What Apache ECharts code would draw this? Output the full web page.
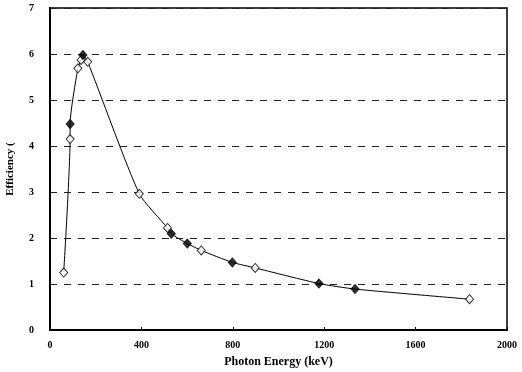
<!DOCTYPE html>
<html><head><meta charset="utf-8">
<script src="https://cdn.jsdelivr.net/npm/echarts@6/dist/echarts.min.js"></script>
<style>html,body{margin:0;padding:0;background:#fff}#c{width:522px;height:372px}</style>
</head><body><div id="c"></div>
<script>
// Open diamonds
const openEnergy = [60, 88, 122, 136, 165, 391, 514, 662, 898, 1836];
const openEff    = [1.25, 4.15, 5.69, 5.87, 5.83, 2.96, 2.22, 1.73, 1.35, 0.67];
// Filled diamonds
const filledEnergy = [88, 144, 531, 601, 798, 1177, 1335];
const filledEff    = [4.48, 5.98, 2.09, 1.88, 1.47, 1.01, 0.89];
const xTicks = [0, 400, 800, 1200, 1600, 2000];
const yTicks = [0, 1, 2, 3, 4, 5, 6, 7];

const openData = openEnergy.map((e, i) => [e, openEff[i]]);
const filledData = filledEnergy.map((e, i) => [e, filledEff[i]]);
const lineData = openData.concat(filledData).sort((a, b) => a[0] - b[0] || a[1] - b[1]);

const font = '"Liberation Serif", "Times New Roman", serif';
const chart = echarts.init(document.getElementById('c'));
chart.setOption({
  animation: false,
  backgroundColor: '#fff',
  grid: { left: 50, right: 15, top: 8, bottom: 42, containLabel: false, outerBoundsMode: 'none',
          show: true, borderColor: '#000', borderWidth: 1.5, backgroundColor: 'transparent' },
  xAxis: {
    type: 'value', min: xTicks[0], max: xTicks[xTicks.length - 1], interval: 400,
    name: 'Photon Energy (keV)', nameLocation: 'middle', nameGap: 26,
    nameTextStyle: { fontFamily: font, fontWeight: 'bold', fontSize: 12, color: '#000' },
    axisLine: { lineStyle: { color: '#000', width: 2 } },
    axisTick: { inside: true, length: 3, lineStyle: { color: '#000' } },
    axisLabel: { fontFamily: font, fontWeight: 'bold', fontSize: 10, color: '#000', margin: 10,
                 formatter: v => String(v) },
    splitLine: { show: false }
  },
  yAxis: {
    type: 'value', min: yTicks[0], max: yTicks[yTicks.length - 1], interval: 1,
    name: 'Efficiency (', nameLocation: 'middle', nameGap: 34, nameRotate: 90,
    nameTextStyle: { fontFamily: font, fontWeight: 'bold', fontSize: 11, color: '#000' },
    axisLine: { lineStyle: { color: '#000', width: 2 } },
    axisTick: { show: false },
    axisLabel: { fontFamily: font, fontWeight: 'bold', fontSize: 10, color: '#000', margin: 16 },
    splitLine: { show: true, lineStyle: { color: '#222', width: 1, type: [7, 7] } }
  },
  series: [
    { type: 'line', data: lineData, smooth: 0.2, symbol: 'none', lineStyle: { color: '#000', width: 1 }, z: 2 },
    { type: 'scatter', data: openData, symbol: 'diamond', symbolSize: [8, 9],
      itemStyle: { color: '#fff', borderColor: '#000', borderWidth: 1 }, z: 3 },
    { type: 'scatter', data: filledData, symbol: 'diamond', symbolSize: [8, 9],
      itemStyle: { color: '#000', borderColor: '#000', borderWidth: 1 }, z: 4 }
  ]
});
</script></body></html>
